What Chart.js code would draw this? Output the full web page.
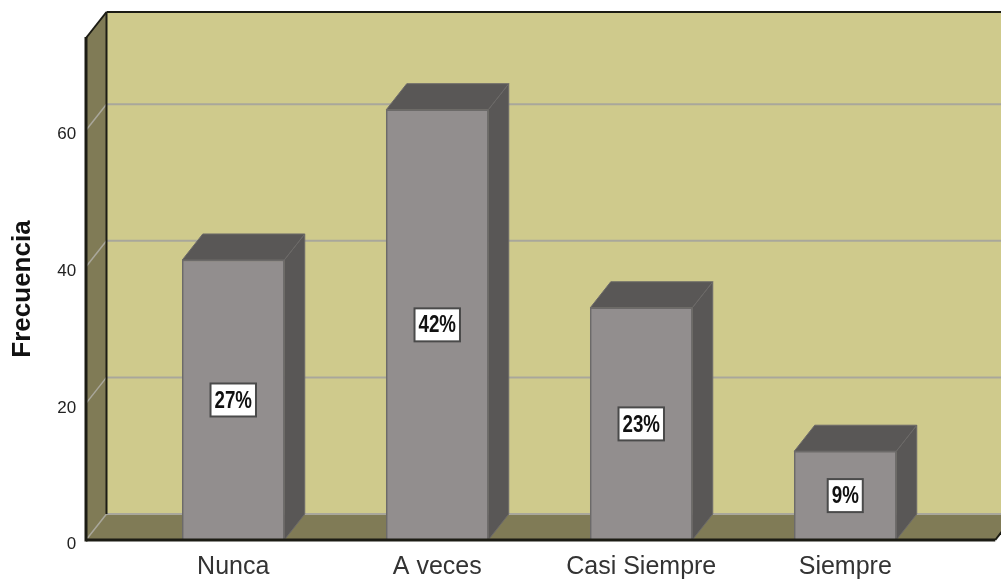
<!DOCTYPE html>
<html><head><meta charset="utf-8">
<style>html,body{margin:0;padding:0;background:#fff}#w{width:1001px;height:579px;position:relative}</style>
<script src="https://cdn.jsdelivr.net/npm/chart.js@4"></script>
</head><body><div id="w"><canvas id="c" width="1001" height="579"></canvas></div>
<script>
const categories = ['Nunca', 'A veces', 'Casi Siempre', 'Siempre'];
const frequencies = [41, 63, 34, 13];
const percentLabels = ['27%', '42%', '23%', '9%'];
const yTicks = [0, 20, 40, 60];
const yMax = 73.5;
const axisTitle = 'Frecuencia';

const DX = 20.5, DY = -26, PAD_L = 45.25, PAD_R = 48;
const COL = {wall:'#cfca8c', floor:'#807b56', line:'#1c1c14', grid:'#a9a79b',
             front:'#928e8e', dark:'#595756', edge:'#6c6a69'};

function poly(ctx, pts, fill, stroke, lw){
  ctx.beginPath();
  pts.forEach((p,i)=> i ? ctx.lineTo(p[0],p[1]) : ctx.moveTo(p[0],p[1]));
  ctx.closePath();
  if(fill){ctx.fillStyle=fill;ctx.fill();}
  if(stroke){ctx.strokeStyle=stroke;ctx.lineWidth=lw||1;ctx.stroke();}
}
function seg(ctx,a,b,c,w){ctx.beginPath();ctx.moveTo(a[0],a[1]);ctx.lineTo(b[0],b[1]);ctx.strokeStyle=c;ctx.lineWidth=w;ctx.stroke();}

const box3d = {
  id:'box3d',
  beforeDatasetsDraw(chart){
    const {ctx,chartArea:a,scales:{y}} = chart;
    const L=a.left-PAD_L, R=a.right+PAD_R, T=a.top, B=a.bottom;
    ctx.save();
    poly(ctx,[[L+DX,T+DY],[R+DX,T+DY],[R+DX,B+DY],[L+DX,B+DY]],COL.wall);
    poly(ctx,[[L,T],[L+DX,T+DY],[L+DX,B+DY],[L,B]],COL.floor);
    poly(ctx,[[L,B],[L+DX,B+DY],[R+DX,B+DY],[R,B]],COL.floor);
    yTicks.forEach(v=>{
      const p=y.getPixelForValue(v);
      seg(ctx,[L,p],[L+DX,p+DY],COL.grid,1.5);
      seg(ctx,[L+DX,p+DY],[R+DX,p+DY],COL.grid,2);
    });
    seg(ctx,[L+DX,T+DY],[R+DX,T+DY],COL.line,2);
    seg(ctx,[L+DX,T+DY],[L+DX,B+DY],COL.line,2);
    seg(ctx,[L,T],[L+DX,T+DY],COL.line,2);
    seg(ctx,[L,T-1],[L,B+1.5],COL.line,3);
    seg(ctx,[R,B],[R+DX,B+DY],COL.line,2);
    chart.getDatasetMeta(0).data.forEach(b=>{
      const l=b.x-b.width/2, r=b.x+b.width/2;
      poly(ctx,[[r,b.base],[r+DX,b.base+DY],[r+DX,b.y+DY],[r,b.y]],COL.dark,COL.edge,1);
      poly(ctx,[[l,b.y],[l+DX,b.y+DY],[r+DX,b.y+DY],[r,b.y]],COL.dark,COL.edge,1);
    });
    ctx.restore();
  },
  afterDatasetsDraw(chart){
    const {ctx,chartArea:a} = chart;
    ctx.save();
    seg(ctx,[a.left-PAD_L,a.bottom],[a.right+PAD_R,a.bottom],COL.line,3);
    ctx.font='bold 24px "Liberation Sans",sans-serif';
    ctx.textAlign='center';ctx.textBaseline='middle';
    chart.getDatasetMeta(0).data.forEach((b,i)=>{
      const t=percentLabels[i], w=ctx.measureText(t).width*0.78+8, h=33;
      const cy=(b.y+b.base)/2;
      ctx.fillStyle='#fff';ctx.strokeStyle='#4a4a4a';ctx.lineWidth=2;
      ctx.fillRect(b.x-w/2,cy-h/2,w,h);ctx.strokeRect(b.x-w/2,cy-h/2,w,h);
      ctx.save();
      ctx.translate(b.x,cy+1);ctx.scale(0.78,1);
      ctx.fillStyle='#111';ctx.fillText(t,0,0);
      ctx.restore();
    });
    ctx.restore();
  }
};

new Chart(document.getElementById('c'),{
  type:'bar',
  data:{labels:categories,datasets:[{data:frequencies,backgroundColor:COL.front,borderColor:COL.edge,borderWidth:1.5,
    barThickness:102,categoryPercentage:1}]},
  plugins:[box3d],
  options:{
    responsive:false,animation:false,
    layout:{padding:{top:38,right:53.75,bottom:0,left:0}},
    plugins:{legend:{display:false},tooltip:{enabled:false}},
    scales:{
      x:{grid:{display:false},border:{display:false},
        ticks:{color:'#333',font:{family:'Liberation Sans',size:25},padding:4,maxRotation:0,autoSkip:false},
        afterFit(s){s.height=39;s.paddingLeft=0;s.paddingRight=0;}},
      y:{min:0,max:yMax,grid:{display:false},border:{display:false},
        afterBuildTicks(s){s.ticks=yTicks.map(v=>({value:v}));},
        ticks:{color:'#222',font:{family:'Liberation Sans',size:17},padding:47,labelOffset:4.5},
        title:{display:true,text:axisTitle,color:'#111',font:{family:'Liberation Sans',size:26,weight:'bold'},padding:{top:7,bottom:0}},
        afterFit(s){s.width=131.25;s.paddingTop=0;s.paddingBottom=0;}}
    }
  }
});
</script></body></html>
